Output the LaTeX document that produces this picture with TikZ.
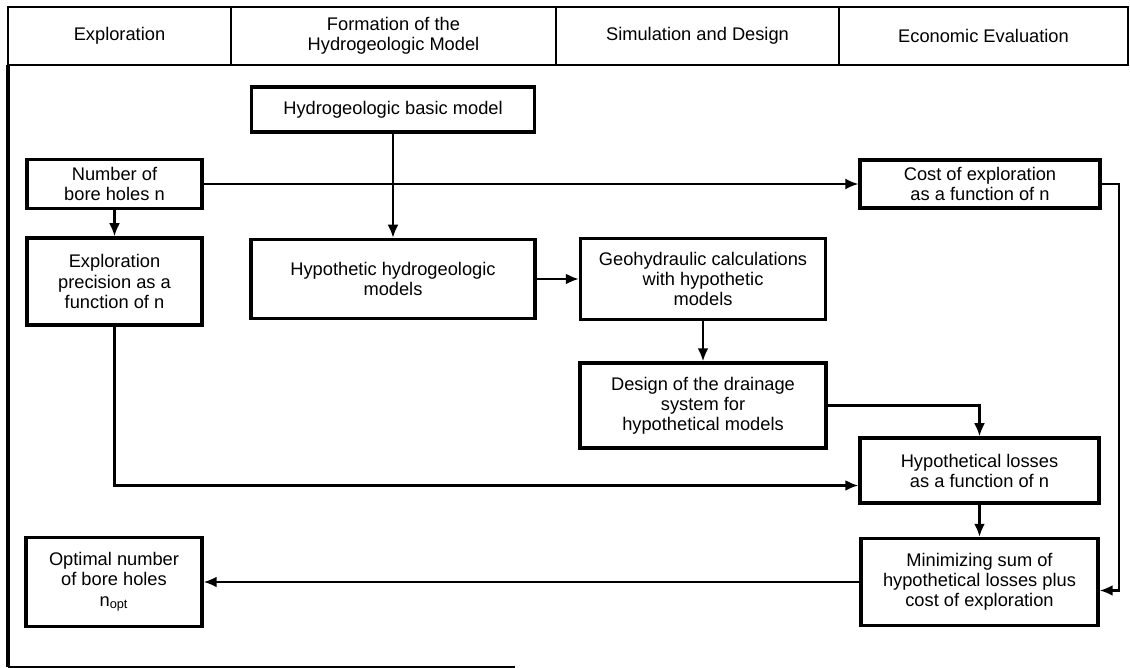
\documentclass[tikz,border=0pt]{standalone}
\usepackage{fontspec}
\setmainfont{Liberation Sans}
\usepackage{tikz}
\usetikzlibrary{arrows.meta}

\begin{document}
\begin{tikzpicture}[x=0.02cm,y=-0.02cm,
                        font=\fontsize{10.4}{11.4}\selectfont,
                        box/.style={draw,line width=2pt,align=center,inner sep=0pt},
                        flow/.style={line width=1.3pt,-{Latex[length=0.26cm,width=0.22cm]}}]
                        \useasboundingbox (0,0) rectangle (1130,668);
                        % header row
                        \draw[line width=1.4pt] (8,7) rectangle (1128,65);
                        \foreach \x in {231,556,839} \draw[line width=1.1pt] (\x,7) -- (\x,65);
                        \node (h1) at (119.5,36) {Exploration};
                        \node[align=center] (h2) at (393.5,36) {Formation of the\\Hydrogeologic Model};
                        \node (h3) at (697.5,36) {Simulation and Design};
                        \node (h4) at (983.5,36) {Economic Evaluation};
                        \draw[line width=2pt] (8,65) -- (8,667);
                        \draw[line width=1.1pt] (8,667) -- (515,667);
                        % boxes
                        \node[box,minimum width=5.66cm,minimum height=0.9cm] (basic) at (393,109.5) {Hydrogeologic basic model};
                        \node[box,minimum width=3.5cm,minimum height=0.98cm] (num) at (114.5,184) {Number of\\bore holes n};
                        \node[box,minimum width=3.5cm,minimum height=1.74cm] (prec) at (114.5,281.5) {Exploration\\precision as a\\function of n};
                        \node[box,minimum width=5.68cm,minimum height=1.58cm] (hyp) at (393,279) {Hypothetic hydrogeologic\\models};
                        \node[box,minimum width=4.9cm,minimum height=1.62cm] (geo) at (703,279) {Geohydraulic calculations\\with hypothetic\\models};
                        \node[box,minimum width=4.92cm,minimum height=1.7cm] (design) at (703,405.5) {Design of the drainage\\system for\\hypothetical models};
                        \node[box,minimum width=4.8cm,minimum height=0.96cm] (cost) at (980,184) {Cost of exploration\\as a function of n};
                        \node[box,minimum width=4.78cm,minimum height=1.3cm] (losses) at (979.5,470.5) {Hypothetical losses\\as a function of n};
                        \node[box,minimum width=4.74cm,minimum height=1.74cm] (min) at (979.5,582) {Minimizing sum of\\hypothetical losses plus\\cost of exploration};
                        \node[box,minimum width=3.52cm,minimum height=1.78cm] (opt) at (114,582) {Optimal number\\of bore holes\\n\textsubscript{opt}};
                        % connectors
                        \draw[flow,line width=1.1pt] (num) -- (cost);
                        \draw[flow] (num) -- (prec);
                        \draw[flow] (basic) -- (hyp);
                        \draw[flow] (hyp) -- (geo);
                        \draw[flow] (geo) -- (design);
                        \draw[flow] (design.east) -| (losses.north);
                        \draw[flow] (prec.south) |- ([yshift=-0.3cm]losses.west);
                        \draw[flow] (losses) -- (min);
                        \draw[flow] (cost.east) -- ++(17,0) |- ([yshift=-0.17cm]min.east);
                        \draw[flow] (min) -- (opt);
                \end{tikzpicture}
\end{document}
